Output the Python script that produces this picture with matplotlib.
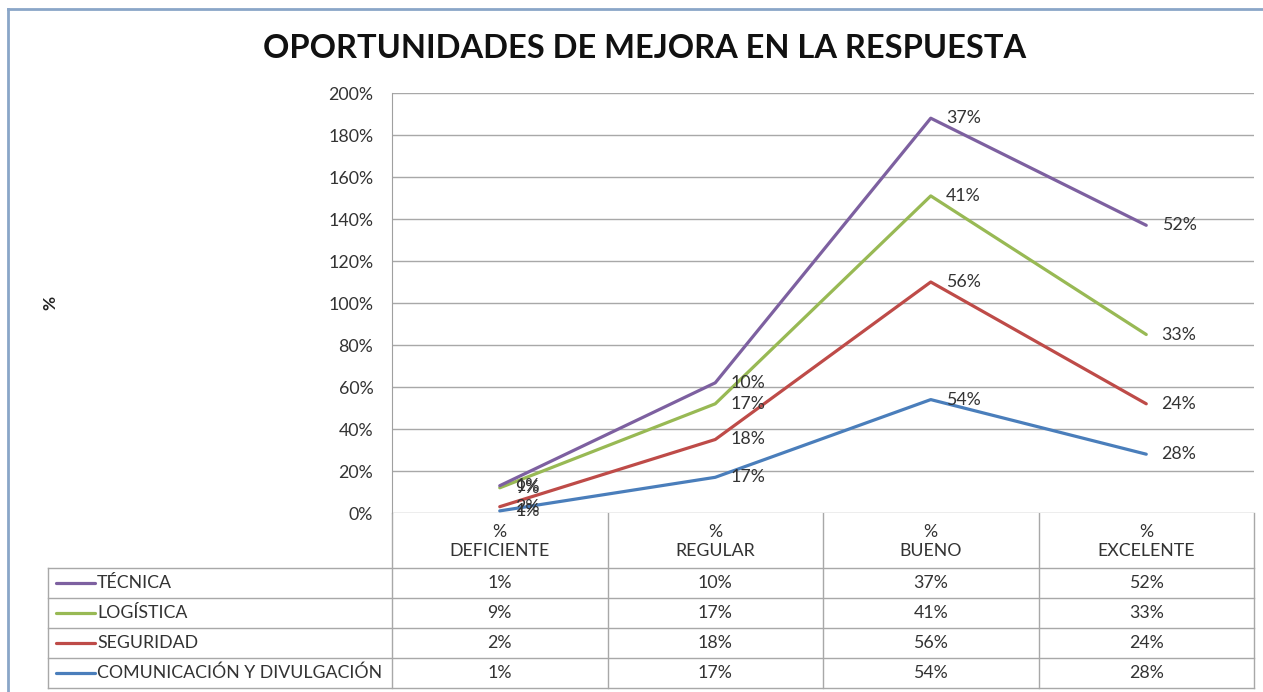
import matplotlib
matplotlib.use("Agg")
import matplotlib.pyplot as plt
import numpy as np

plt.rcParams['font.family'] = ['Lato', 'DejaVu Sans']

categories = ["%\nDEFICIENTE", "%\nREGULAR", "%\nBUENO", "%\nEXCELENTE"]
series_names = ["TÉCNICA", "LOGÍSTICA", "SEGURIDAD", "COMUNICACIÓN Y DIVULGACIÓN"]
tecnica = [1, 10, 37, 52]
logistica = [9, 17, 41, 33]
seguridad = [2, 18, 56, 24]
comunicacion = [1, 17, 54, 28]
colors = ["#7D60A0", "#98B954", "#BE4B48", "#4A7EBB"]
yticks = [0, 20, 40, 60, 80, 100, 120, 140, 160, 180, 200]

FS = 12.8
TXT = "#333333"
W, H = 1263, 692
fig = plt.figure(figsize=(W / 100, H / 100), dpi=100)
fig.patch.set_facecolor("white")

# pixel geometry
pl, pr, pt, pb = 392, 1254, 93, 513
ax = fig.add_axes([pl / W, 1 - pb / H, (pr - pl) / W, (pb - pt) / H])
ax.set_xlim(-0.5, 3.5)
ax.set_ylim(0, 200)
ax.set_yticks(yticks)
ax.set_yticklabels([f"{v}%" for v in yticks], fontsize=FS, color=TXT)
ax.set_xticks([])
ax.tick_params(axis="y", length=0, pad=13.5)
for s in ["top", "right", "bottom"]:
    ax.spines[s].set_visible(False)
ax.spines["left"].set_color("#A0A0A0")
ax.grid(axis="y", color="#A8A8A8", linewidth=1)
ax.set_axisbelow(True)

# stacked lines (bottom-up order: comunicacion, seguridad, logistica, tecnica)
order = [comunicacion, seguridad, logistica, tecnica]
order_colors = [colors[3], colors[2], colors[1], colors[0]]
x = np.arange(len(categories))
cum = np.zeros(len(categories))
for vals, c in zip(order, order_colors):
    cum = cum + np.array(vals)
    ax.plot(x, cum, color=c, linewidth=2.3, solid_capstyle="round", zorder=3)
    for xi, yi, v in zip(x, cum, vals):
        ax.annotate(f"{v}%", (xi, yi), xytext=(11, 0), textcoords="offset points",
                    ha="left", va="center", fontsize=FS, color=TXT, zorder=4)

ax.set_ylabel("%", fontsize=12.5, fontweight="bold", color="#222222", labelpad=0)
ax.yaxis.set_label_coords((58 - pl) / (pr - pl), 0.5)

# overlay axes in pixel coordinates for table, title, border
ov = fig.add_axes([0, 0, 1, 1], zorder=-1)
ov.set_xlim(0, W)
ov.set_ylim(H, 0)
ov.axis("off")

fig.text(645 / W, 1 - 48 / H, "OPORTUNIDADES DE MEJORA EN LA RESPUESTA",
         ha="center", va="center", fontsize=23.5, fontweight="bold", color="#111111")

# frame border
ov.plot([8, 8], [9, H], color="#8AA6C8", linewidth=2)
ov.plot([8, W], [9, 9], color="#8AA6C8", linewidth=2)

grid_c = "#A8A8A8"
tl = 48
hdr_top, hdr_bot = 513, 568
row_h = 30
nrows = len(series_names)
tab_bot = hdr_bot + nrows * row_h
colw = (pr - pl) / len(categories)

for i in range(len(categories) + 1):
    xx = pl + i * colw
    ov.plot([xx, xx], [hdr_top, tab_bot], color=grid_c, linewidth=1)
ov.plot([tl, tl], [hdr_bot, tab_bot], color=grid_c, linewidth=1)
for r in range(nrows + 1):
    yy = hdr_bot + r * row_h
    ov.plot([tl, pr], [yy, yy], color=grid_c, linewidth=1)

for i, cat in enumerate(categories):
    ov.text(pl + (i + 0.5) * colw, (hdr_top + hdr_bot) / 2 + 1, cat, ha="center",
            va="center", fontsize=FS, color=TXT, linespacing=1.3)

table_vals = [tecnica, logistica, seguridad, comunicacion]
for r, (name, vals, c) in enumerate(zip(series_names, table_vals, colors)):
    yc = hdr_bot + (r + 0.5) * row_h
    ov.plot([56, 95], [yc, yc], color=c, linewidth=2.3, solid_capstyle="round")
    ov.text(97, yc, name, ha="left", va="center", fontsize=FS, color=TXT)
    for i, v in enumerate(vals):
        ov.text(pl + (i + 0.5) * colw, yc, f"{v}%", ha="center", va="center",
                fontsize=FS, color=TXT)

fig.savefig("out.png", dpi=100, facecolor="white")
